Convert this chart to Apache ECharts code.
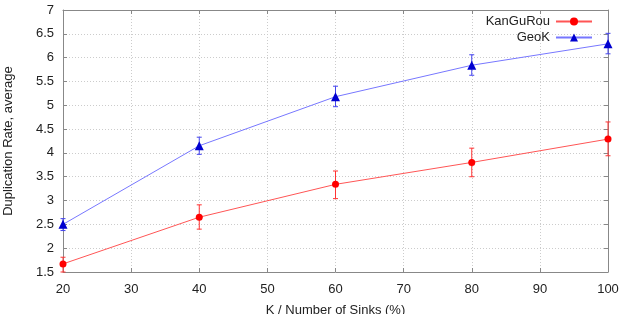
<!DOCTYPE html>
<html>
<head>
<meta charset="utf-8">
<script src="https://cdn.jsdelivr.net/npm/echarts@6/dist/echarts.min.js"></script>
<style>
  html, body { margin: 0; padding: 0; background: #fff; }
  #chart { width: 619px; height: 314px; }
</style>
</head>
<body>
<div id="chart"></div>
<script>
const sinks = [20, 40, 60, 80, 100]

const kanGuRou = [1.67, 2.65, 3.34, 3.80, 4.29]
const kanGuRouLow = [1.50, 2.40, 3.04, 3.50, 3.94]
const kanGuRouHigh = [1.81, 2.91, 3.62, 4.10, 4.65]

const geoK = [2.50, 4.15, 5.18, 5.84, 6.29]
const geoKLow = [2.37, 3.97, 4.97, 5.63, 6.08]
const geoKHigh = [2.62, 4.33, 5.40, 6.06, 6.51]

const font = 'Liberation Sans, Arial, sans-serif'
const axisColor = '#888'

function errorData(low, high) {
  return sinks.map((x, i) => [x, low[i], high[i]])
}

function errorSeries(name, low, high, color) {
  return {
    type: 'custom',
    name,
    data: errorData(low, high),
    silent: true,
    z: 3,
    renderItem(params, api) {
      const lo = api.coord([api.value(0), api.value(1)])
      const hi = api.coord([api.value(0), api.value(2)])
      const c = 2.5
      const style = { stroke: color, lineWidth: 1 }
      return {
        type: 'group',
        children: [
          { type: 'line', shape: { x1: lo[0], y1: lo[1], x2: hi[0], y2: hi[1] }, style },
          { type: 'line', shape: { x1: lo[0] - c, y1: lo[1], x2: lo[0] + c, y2: lo[1] }, style },
          { type: 'line', shape: { x1: hi[0] - c, y1: hi[1], x2: hi[0] + c, y2: hi[1] }, style }
        ]
      }
    }
  }
}

const chart = echarts.init(document.getElementById('chart'))

chart.setOption({
  animation: false,
  textStyle: { fontFamily: font },
  grid: { left: 63, right: 11, top: 10, bottom: 42, outerBoundsMode: 'none', containLabel: false },
  legend: {
    right: 21,
    top: 10,
    orient: 'vertical',
    align: 'right',
    itemGap: 3,
    itemWidth: 36,
    itemHeight: 10,
    textStyle: { fontSize: 13, color: '#222', fontFamily: font, padding: [0, 1, 0, 0] },
    data: ['KanGuRou', 'GeoK']
  },
  xAxis: [
    {
      type: 'value',
      min: 20,
      max: 100,
      interval: 10,
      name: 'K / Number of Sinks (%)',
      nameLocation: 'middle',
      nameGap: 32,
      nameTextStyle: { fontSize: 13, color: '#222' },
      axisLine: { lineStyle: { color: axisColor } },
      axisTick: { inside: true, length: 4, lineStyle: { color: axisColor } },
      axisLabel: { fontSize: 13, color: '#222', margin: 11 },
      splitLine: { show: true, lineStyle: { color: '#ccc', type: [1, 2] } }
    },
    {
      type: 'value',
      position: 'top',
      min: 20,
      max: 100,
      interval: 10,
      axisLine: { show: true, lineStyle: { color: axisColor } },
      axisTick: { show: true, inside: true, length: 4, lineStyle: { color: axisColor } },
      axisLabel: { show: false },
      splitLine: { show: false }
    }
  ],
  yAxis: [
    {
      type: 'value',
      min: 1.5,
      max: 7,
      interval: 0.5,
      name: 'Duplication Rate, average',
      nameLocation: 'middle',
      nameGap: 48,
      nameTextStyle: { fontSize: 13, color: '#222' },
      axisLine: { show: true, lineStyle: { color: axisColor } },
      axisTick: { show: true, inside: true, length: 4, lineStyle: { color: axisColor } },
      axisLabel: { fontSize: 13, color: '#222', margin: 9 },
      splitLine: { show: true, lineStyle: { color: '#ccc', type: [1, 2] } }
    },
    {
      type: 'value',
      position: 'right',
      min: 1.5,
      max: 7,
      interval: 0.5,
      axisLine: { show: true, lineStyle: { color: axisColor } },
      axisTick: { show: true, inside: true, length: 4, lineStyle: { color: axisColor } },
      axisLabel: { show: false },
      splitLine: { show: false }
    }
  ],
  series: [
    {
      type: 'line',
      name: 'KanGuRou',
      data: sinks.map((x, i) => [x, kanGuRou[i]]),
      symbol: 'circle',
      symbolSize: 7,
      lineStyle: { color: '#f55', width: 1 },
      itemStyle: { color: '#f00' },
      z: 4
    },
    {
      type: 'line',
      name: 'GeoK',
      data: sinks.map((x, i) => [x, geoK[i]]),
      symbol: 'triangle',
      symbolSize: 9,
      lineStyle: { color: '#77f', width: 1 },
      itemStyle: { color: '#0000d0' },
      z: 4
    },
    errorSeries('KanGuRou', kanGuRouLow, kanGuRouHigh, '#f33'),
    errorSeries('GeoK', geoKLow, geoKHigh, '#44e')
  ]
})
</script>
</body>
</html>
